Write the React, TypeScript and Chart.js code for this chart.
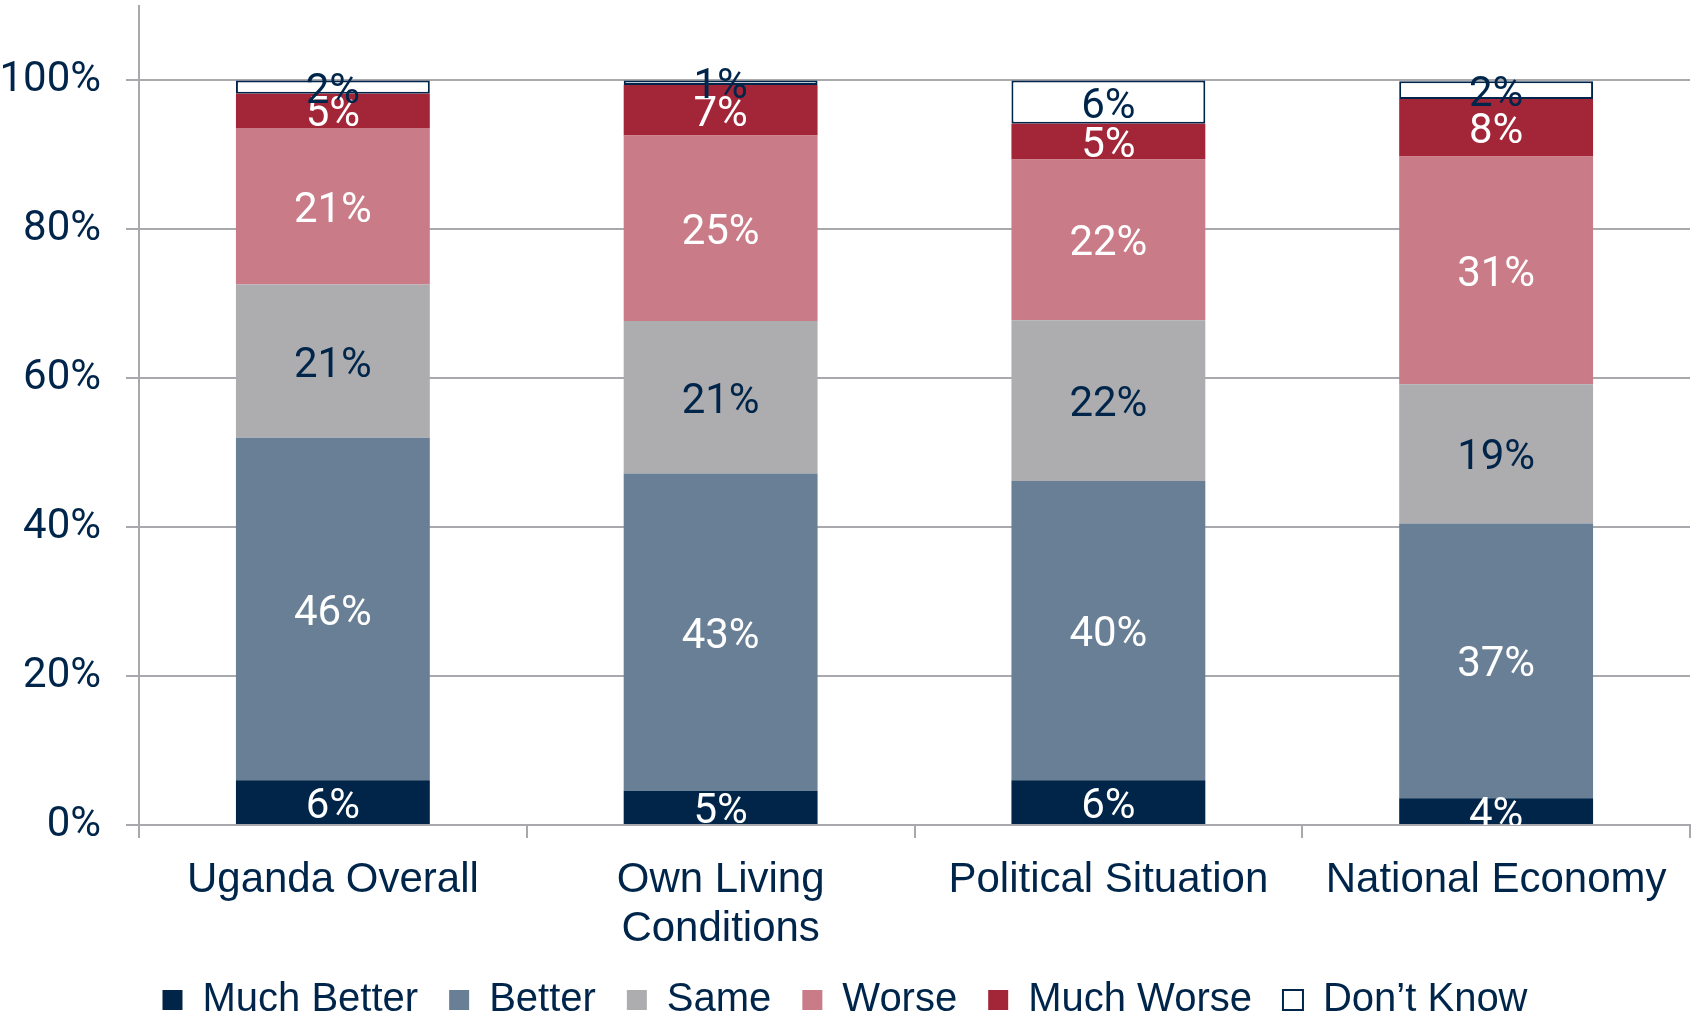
import React, { useEffect, useRef } from 'react';
import { Chart, registerables } from 'chart.js';

Chart.register(...registerables);

const categories: (string | string[])[] = ['Uganda Overall', ['Own Living', 'Conditions'], 'Political Situation', 'National Economy'];
const seriesNames = ['Much Better', 'Better', 'Same', 'Worse', 'Much Worse', 'Don\u2019t Know'];
const muchBetter = [6.0, 4.6, 6.0, 3.6];
const better = [46.0, 42.6, 40.2, 36.9];
const same = [20.6, 20.5, 21.6, 18.7];
const worse = [21.0, 24.9, 21.6, 30.6];
const muchWorse = [4.6, 6.8, 4.8, 7.7];
const dontKnow = [1.8, 0.6, 5.8, 2.4];
const yTicks = [0, 20, 40, 60, 80, 100];

const NAVY = '#00254a';
const GRID = '#a8a9ad';
const NUMFONT = 'Roboto, "DejaVu Sans Condensed", sans-serif';
const SANS = '"Liberation Sans", Arial, sans-serif';

const fills = ['#002549', '#687f95', '#adadaf', '#c97b87', '#a32638', '#ffffff'];
const labelColors = ['#ffffff', '#ffffff', NAVY, '#ffffff', '#ffffff', NAVY];

const segLabels = {
  id: 'segLabels',
  afterDatasetsDraw(chart: any) {
    const { ctx, chartArea } = chart;
    ctx.save();
    ctx.beginPath();
    ctx.rect(chartArea.left, chartArea.top, chartArea.right - chartArea.left, chartArea.bottom - chartArea.top);
    ctx.clip();
    ctx.font = `42px ${NUMFONT}`;
    ctx.textAlign = 'center';
    ctx.textBaseline = 'middle';
    chart.data.datasets.forEach((ds: any, di: number) => {
      const meta = chart.getDatasetMeta(di);
      meta.data.forEach((el: any, i: number) => {
        const v = ds.data[i];
        const { x, y, base } = el.getProps(['x', 'y', 'base'], true);
        ctx.fillStyle = labelColors[di];
        ctx.fillText(`${Math.round(v)}%`, x, (y + base) / 2 + 5);
      });
    });
    ctx.restore();
  },
};

export default function App() {
  const ref = useRef<HTMLCanvasElement | null>(null);
  useEffect(() => {
    if (!ref.current) return;
    const series = [muchBetter, better, same, worse, muchWorse, dontKnow];
    const chart = new Chart(ref.current, {
      type: 'bar',
      data: {
        labels: categories as any,
        datasets: series.map((d, i) => ({
          label: seriesNames[i],
          data: d,
          backgroundColor: fills[i],
          borderColor: i === 5 ? NAVY : fills[i],
          borderWidth: i === 5 ? 2 : 0,
          borderSkipped: false,
          barPercentage: 0.5,
          categoryPercentage: 1,
        })),
      },
      options: {
        animation: false,
        responsive: true,
        maintainAspectRatio: false,
        layout: { padding: { top: 6, right: 6, left: 0, bottom: -13 } },
        plugins: {
          legend: {
            position: 'bottom',
            labels: {
              boxWidth: 20,
              boxHeight: 20,
              padding: 31,
              color: NAVY,
              font: { family: SANS, size: 40 },
            },
          },
          tooltip: { enabled: false },
        },
        scales: {
          x: {
            stacked: true,
            grid: { display: true, drawOnChartArea: false, offset: true, color: GRID, lineWidth: 2, tickLength: 13 },
            border: { color: GRID, width: 2 },
            ticks: {
              color: NAVY,
              padding: 18,
              maxRotation: 0,
              autoSkip: false,
              font: { family: SANS, size: 42, lineHeight: 1.17 },
            },
            afterFit(scale: any) { scale.height = 124; },
          },
          y: {
            stacked: true,
            min: 0,
            max: 110,
            grid: { color: GRID, lineWidth: 2, tickLength: 13 },
            border: { color: GRID, width: 2 },
            ticks: {
              color: NAVY,
              padding: 25,
              font: { family: NUMFONT, size: 42 },
              callback: (v: any) => `${v}%`,
            },
            afterBuildTicks(scale: any) { scale.ticks = yTicks.map((v) => ({ value: v })); },
            afterFit(scale: any) {
              scale.width = 139;
              scale.paddingTop = 0;
              scale.paddingBottom = 0;
            },
          },
        },
      },
      plugins: [segLabels],
    });
    return () => chart.destroy();
  }, []);
  return (
    <div style={{ position: 'fixed', left: 0, top: 0, width: 1696, height: 1017, background: '#fff' }}>
      <canvas ref={ref} />
    </div>
  );
}
